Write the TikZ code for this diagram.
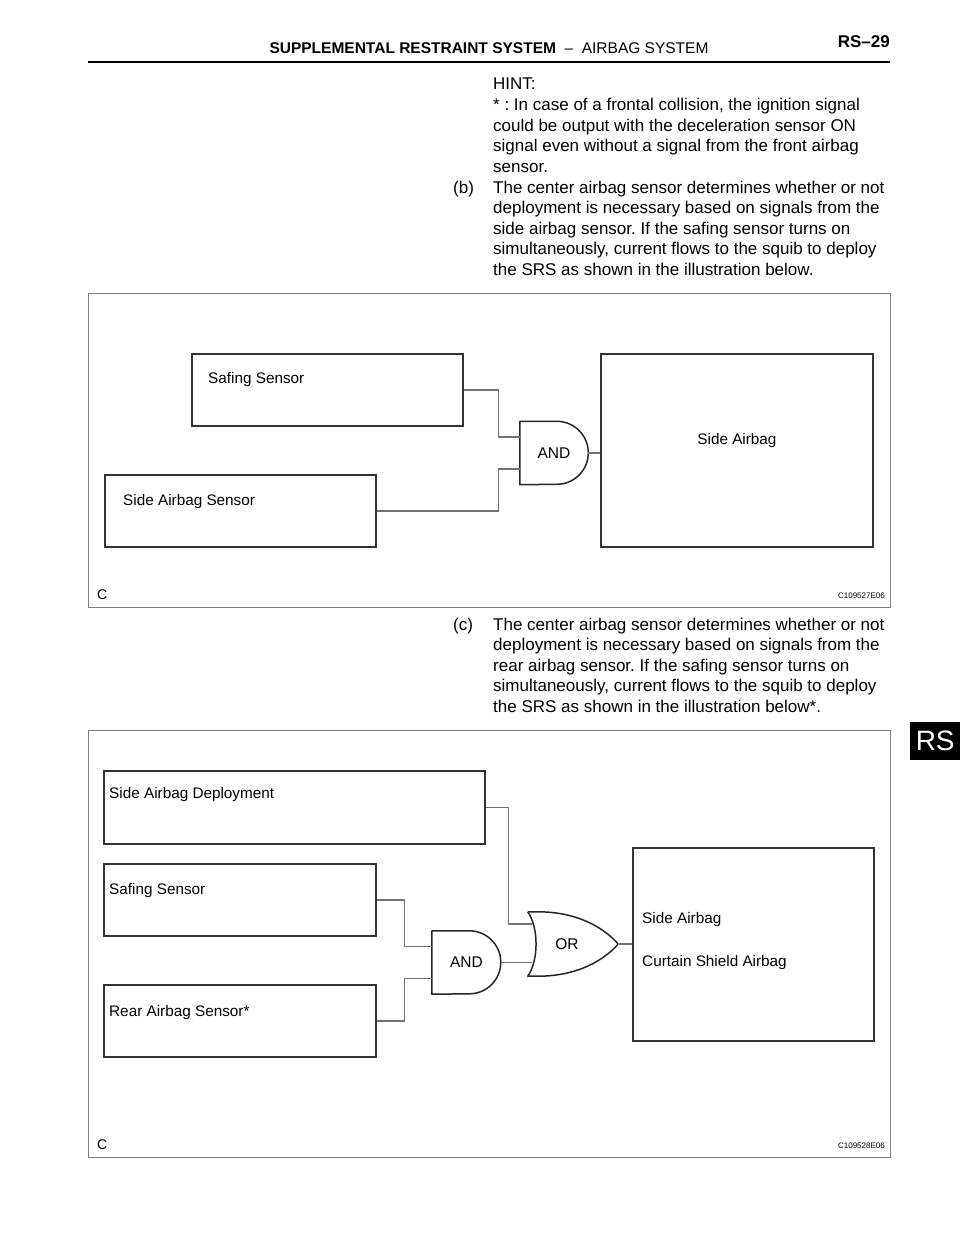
\documentclass[tikz,border=0pt]{standalone}
\usepackage{fontspec}
\setmainfont{Liberation Sans}

\tikzset{
	every box/.style={draw=black!80, line width=1.9pt, inner sep=0pt, anchor=north west},
	every gate/.style={inner sep=0pt, font=\fontsize{15.5}{18}\selectfont},
	gate line/.style={draw=black!85, line width=1.5pt, line join=round},
	wire/.style={draw=black!55, line width=1.1pt},
	frame/.style={draw=black!50, line width=1.2pt, inner sep=0pt, anchor=north west, minimum width=802},
	box label/.style={font=\fontsize{15.3}{18}\selectfont, inner sep=0pt},
	body/.style={font=\fontsize{17}{20.6}\selectfont, align=left, inner sep=0pt, anchor=north west},
	tag/.style={font=\fontsize{8}{9}\selectfont, inner sep=0pt, anchor=base east},
}

\begin{document}
\frenchspacing
\begin{tikzpicture}[x=1pt, y=-1pt]

		\useasboundingbox (0,0) rectangle (960,1242);

		% header
		\node [font=\bfseries\fontsize{15.5}{18}\selectfont, anchor=base, inner sep=0pt] (title) at (489,53)
			{SUPPLEMENTAL RESTRAINT SYSTEM\ \ \textnormal{–\ \ AIRBAG SYSTEM}};
		\node [font=\bfseries\fontsize{17}{20}\selectfont, anchor=base east, inner sep=0pt] (page) at (890,47) {RS–29};
		\coordinate (rule-l) at (88,62);
		\coordinate (rule-r) at (890,62);
		\draw [line width=2.4pt] (rule-l) -- (rule-r);

		% side tab
		\node [fill=black, text=white, font=\fontsize{28}{30}\selectfont, inner sep=0pt,
			minimum width=50, minimum height=38, anchor=north west] (tab) at (910,722) {RS};

		% text
		\node [body] (hint) at (493,78) {HINT:\\
			* : In case of a frontal collision, the ignition signal\\
			could be output with the deceleration sensor ON\\
			signal even without a signal from the front airbag\\
			sensor.};
		\node [body] (item-b-num) at (453,180.5) {(b)};
		\node [body] (item-b) at (493,180.5) {The center airbag sensor determines whether or not\\
			deployment is necessary based on signals from the\\
			side airbag sensor. If the safing sensor turns on\\
			simultaneously, current flows to the squib to deploy\\
			the SRS as shown in the illustration below.};
		\node [body] (item-c-num) at (453,617.5) {(c)};
		\node [body] (item-c) at (493,617.5) {The center airbag sensor determines whether or not\\
			deployment is necessary based on signals from the\\
			rear airbag sensor. If the safing sensor turns on\\
			simultaneously, current flows to the squib to deploy\\
			the SRS as shown in the illustration below*.};

		% figure 1
		\node [frame, minimum height=314] (frame1) at (88,293) {};
		\node [every box, minimum width=271, minimum height=72] (safing1) at (191,353) {};
		\node [every box, minimum width=271, minimum height=72] (sensor1) at (104,474) {};
		\node [every box, minimum width=272, minimum height=193] (airbag1) at (600,353) {};
		\node [every gate, minimum width=68, minimum height=63] (and1) at (554,453) {AND};
		\draw [gate line] (and1.south west) -- (and1.north west) -- ++(37,0)
			arc [start angle=90, end angle=-90, radius=31.5pt] -- cycle;
		\coordinate (and1-in1) at ([shift={(0,-16)}]and1.west);
		\coordinate (and1-in2) at ([shift={(0,16)}]and1.west);

		\foreach \b/\l/\dx/\dy in {safing1/Safing Sensor/17/27, sensor1/Side Airbag Sensor/19/28}
			\node [box label, anchor=west] (\b-label) at ([shift={(\dx,\dy)}]\b.north west) {\l};
		\node [box label] (airbag1-label) at ([shift={(0,-10)}]airbag1.center) {Side Airbag};

		\draw [wire] (safing1.east) -- ++(35,0) |- (and1-in1);
		\draw [wire] (sensor1.east) -- ++(122,0) |- (and1-in2);
		\draw [wire] (and1.east) -- (and1.east -| airbag1.west);

		\node [box label, anchor=base west, font=\fontsize{14}{16}\selectfont] (c1) at (97,599) {C};
		\node [tag] (code1) at (885,598) {C109527E06};

		% figure 2
		\node [frame, minimum height=427] (frame2) at (88,730) {};
		\node [every box, minimum width=381, minimum height=73] (deploy2) at (103,770) {};
		\node [every box, minimum width=272, minimum height=72] (safing2) at (103,863) {};
		\node [every box, minimum width=272, minimum height=72] (rear2) at (103,984) {};
		\node [every box, minimum width=241, minimum height=193] (airbag2) at (632,847) {};
		\node [every gate, minimum width=69, minimum height=63] (and2) at (466.5,962.5) {AND};
		\draw [gate line] (and2.south west) -- (and2.north west) -- ++(37.5,0)
			arc [start angle=90, end angle=-90, radius=31.5pt] -- cycle;
		\node [every gate, minimum width=90, minimum height=64] (or2) at (573,944) {\hspace*{-12pt}OR};
		\draw [gate line] (or2.north west) -- ++(10,0) .. controls +(40,0) and +(-14,-16) .. (or2.east)
			.. controls +(-14,16) and +(40,0) .. ([xshift=10pt]or2.south west) -- (or2.south west)
			.. controls +(11,-16) and +(11,16) .. (or2.north west);
		\coordinate (and2-in1) at ([shift={(0,-16)}]and2.west);
		\coordinate (and2-in2) at ([shift={(0,16)}]and2.west);
		\coordinate (or2-in1) at ([shift={(4,-20)}]or2.west);
		\coordinate (or2-in2) at ([shift={(4,18.5)}]or2.west);

		\foreach \b/\l/\dy in {deploy2/Side Airbag Deployment/25, safing2/Safing Sensor/28, rear2/Rear Airbag Sensor*/29}
			\node [box label, anchor=west] (\b-label) at ([shift={(6,\dy)}]\b.north west) {\l};
		\foreach \l/\dy [count=\i] in {Side Airbag/73, Curtain Shield Airbag/116}
			\node [box label, anchor=west] (airbag2-label-\i) at ([shift={(10,\dy)}]airbag2.north west) {\l};

		\draw [wire] (deploy2.east) -- ++(23,0) |- (or2-in1);
		\draw [wire] (safing2.east) -- ++(28,0) |- (and2-in1);
		\draw [wire] (rear2.east) -- ++(28,0) |- (and2-in2);
		\draw [wire] (and2.east) -- (and2.east -| or2-in2);
		\draw [wire] (or2.east) -- (or2.east -| airbag2.west);

		\node [box label, anchor=base west, font=\fontsize{14}{16}\selectfont] (c2) at (97,1149) {C};
		\node [tag] (code2) at (885,1148) {C109528E06};

\end{tikzpicture}
\end{document}
